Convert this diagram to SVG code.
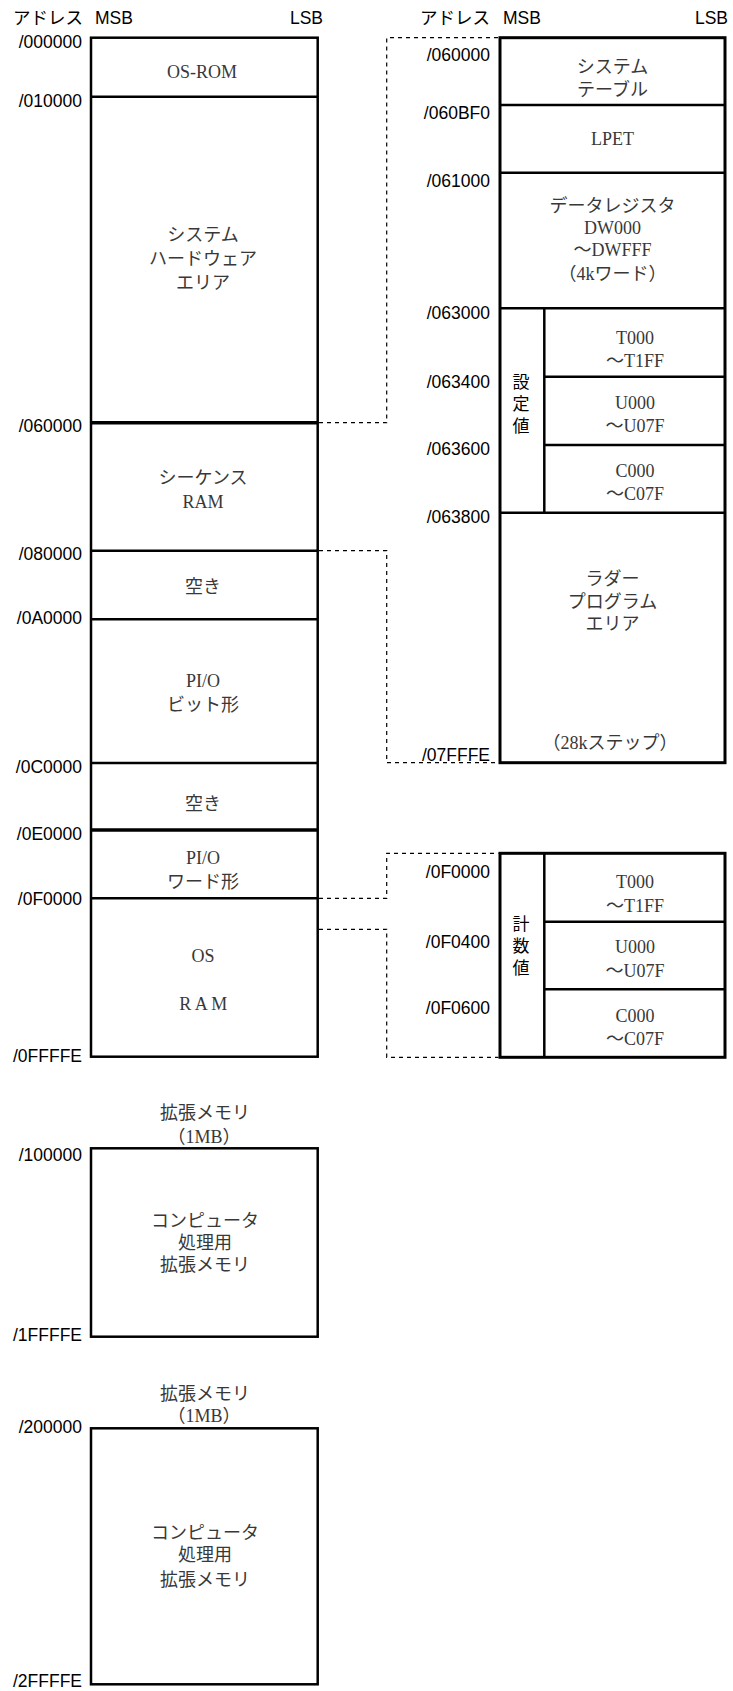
<svg xmlns="http://www.w3.org/2000/svg" width="733" height="1691" viewBox="0 0 733 1691">
<style>
.addr{font-family:"Liberation Sans","Noto Sans CJK JP",sans-serif;font-size:17.5px;fill:#000;text-anchor:end}
.hdr{font-family:"Liberation Sans","Noto Sans CJK JP",sans-serif;font-size:17.5px;fill:#000}
.lbl{font-family:"Liberation Serif","Noto Sans CJK JP",serif;font-size:18px;fill:#383838;text-anchor:middle}
.vt{font-family:"Liberation Sans","Noto Sans CJK JP",sans-serif;font-size:17px;fill:#000;text-anchor:middle}
.box{fill:none;stroke:#000;stroke-width:2.5}
.div{stroke:#000;stroke-width:2.5}
.thick{stroke:#000;stroke-width:3.5}
.dash{fill:none;stroke:#000;stroke-width:1.2;stroke-dasharray:4 4}
</style>
<rect width="733" height="1691" fill="#fff"/>

<g id="headers">
<text class="hdr" x="13" y="24">アドレス</text>
<text class="hdr" x="95" y="24">MSB</text>
<text class="hdr" x="323" y="24" text-anchor="end">LSB</text>
<text class="hdr" x="420" y="24">アドレス</text>
<text class="hdr" x="503" y="24">MSB</text>
<text class="hdr" x="728" y="24" text-anchor="end">LSB</text>
</g>

<g id="main-map">
<rect class="box" x="91" y="37.7" width="226.7" height="1019"/>
<line class="div" x1="91" y1="96.7" x2="317.7" y2="96.7"/>
<line class="thick" x1="91" y1="422.7" x2="317.7" y2="422.7"/>
<line class="div" x1="91" y1="550.7" x2="317.7" y2="550.7"/>
<line class="div" x1="91" y1="619.3" x2="317.7" y2="619.3"/>
<line class="div" x1="91" y1="763" x2="317.7" y2="763"/>
<line class="thick" x1="91" y1="830" x2="317.7" y2="830"/>
<line class="div" x1="91" y1="898.3" x2="317.7" y2="898.3"/>
<text class="addr" x="82" y="47.5">/000000</text>
<text class="addr" x="82" y="107">/010000</text>
<text class="addr" x="82" y="431.5">/060000</text>
<text class="addr" x="82" y="559.5">/080000</text>
<text class="addr" x="82" y="624">/0A0000</text>
<text class="addr" x="82" y="772.5">/0C0000</text>
<text class="addr" x="82" y="839.5">/0E0000</text>
<text class="addr" x="82" y="904.5">/0F0000</text>
<text class="addr" x="82" y="1061.5">/0FFFFE</text>
</g>
<g id="os-rom"><text class="lbl" x="202" y="78">OS-ROM</text></g>
<g id="sys-hw">
<text class="lbl" x="203" y="241">システム</text>
<text class="lbl" x="203" y="265">ハードウェア</text>
<text class="lbl" x="203" y="289">エリア</text>
</g>
<g id="seq-ram">
<text class="lbl" x="203" y="484">シーケンス</text>
<text class="lbl" x="203" y="508">RAM</text>
</g>
<g id="empty1"><text class="lbl" x="203" y="593">空き</text></g>
<g id="pio-bit">
<text class="lbl" x="203" y="687">PI/O</text>
<text class="lbl" x="203" y="711">ビット形</text>
</g>
<g id="empty2"><text class="lbl" x="203" y="810">空き</text></g>
<g id="pio-word">
<text class="lbl" x="203" y="864">PI/O</text>
<text class="lbl" x="203" y="888">ワード形</text>
</g>
<g id="os-ram">
<text class="lbl" x="203" y="961.5">OS</text>
<text class="lbl" x="205" y="1010" letter-spacing="3.5">RAM</text>
</g>

<g id="seq-detail">
<rect x="500" y="37.7" width="225" height="725" fill="none" stroke="#000" stroke-width="3"/>
<line class="div" x1="500" y1="105" x2="725" y2="105"/>
<line class="div" x1="500" y1="172.7" x2="725" y2="172.7"/>
<line class="div" x1="500" y1="308.3" x2="725" y2="308.3"/>
<line class="div" x1="544.3" y1="308.3" x2="544.3" y2="512.7"/>
<line class="div" x1="544.3" y1="376.7" x2="725" y2="376.7"/>
<line class="div" x1="544.3" y1="445" x2="725" y2="445"/>
<line class="div" x1="500" y1="512.7" x2="725" y2="512.7"/>
<text class="addr" x="490" y="60.5">/060000</text>
<text class="addr" x="490" y="118.5">/060BF0</text>
<text class="addr" x="490" y="187">/061000</text>
<text class="addr" x="490" y="318.5">/063000</text>
<text class="addr" x="490" y="387.5">/063400</text>
<text class="addr" x="490" y="454.5">/063600</text>
<text class="addr" x="490" y="523">/063800</text>
<text class="addr" x="490" y="760.5">/07FFFE</text>
</g>
<g id="sys-table">
<text class="lbl" x="612.5" y="72.5">システム</text>
<text class="lbl" x="612.5" y="96">テーブル</text>
</g>
<g id="lpet"><text class="lbl" x="612.5" y="145">LPET</text></g>
<g id="data-reg">
<text class="lbl" x="612.5" y="212">データレジスタ</text>
<text class="lbl" x="612.5" y="233.5">DW000</text>
<text class="lbl" x="612.5" y="255.5">～DWFFF</text>
<text class="lbl" x="612.5" y="280">（4kワード）</text>
</g>
<g id="set-values">
<text class="vt" x="521" y="388">設</text>
<text class="vt" x="521" y="410">定</text>
<text class="vt" x="521" y="432">値</text>
<text class="lbl" x="635" y="343.5">T000</text>
<text class="lbl" x="635" y="366.5">～T1FF</text>
<text class="lbl" x="635" y="408.5">U000</text>
<text class="lbl" x="635" y="431.5">～U07F</text>
<text class="lbl" x="635" y="476.5">C000</text>
<text class="lbl" x="635" y="499.5">～C07F</text>
</g>
<g id="ladder">
<text class="lbl" x="612.5" y="585">ラダー</text>
<text class="lbl" x="612.5" y="607.5">プログラム</text>
<text class="lbl" x="612.5" y="630">エリア</text>
<text class="lbl" x="610" y="749">（28kステップ）</text>
</g>

<g id="count-values">
<rect x="500" y="853.3" width="225" height="204" fill="none" stroke="#000" stroke-width="3"/>
<line class="div" x1="544.3" y1="853.3" x2="544.3" y2="1057.3"/>
<line class="div" x1="544.3" y1="921.7" x2="725" y2="921.7"/>
<line class="div" x1="544.3" y1="989.3" x2="725" y2="989.3"/>
<text class="addr" x="490" y="877.8">/0F0000</text>
<text class="addr" x="490" y="947.8">/0F0400</text>
<text class="addr" x="490" y="1014">/0F0600</text>
<text class="vt" x="521" y="929.5">計</text>
<text class="vt" x="521" y="951.5">数</text>
<text class="vt" x="521" y="973.5">値</text>
<text class="lbl" x="635" y="888">T000</text>
<text class="lbl" x="635" y="911.5">～T1FF</text>
<text class="lbl" x="635" y="953.3">U000</text>
<text class="lbl" x="635" y="976.7">～U07F</text>
<text class="lbl" x="635" y="1021.5">C000</text>
<text class="lbl" x="635" y="1044.5">～C07F</text>
</g>

<g id="ext-mem-1">
<text class="lbl" x="205" y="1119">拡張メモリ</text>
<text class="lbl" x="204" y="1143">（1MB）</text>
<rect class="box" x="91" y="1148.3" width="226.7" height="188.4"/>
<text class="addr" x="82" y="1161">/100000</text>
<text class="addr" x="82" y="1340.5">/1FFFFE</text>
<text class="lbl" x="205" y="1226.5">コンピュータ</text>
<text class="lbl" x="205" y="1248.5">処理用</text>
<text class="lbl" x="205" y="1271">拡張メモリ</text>
</g>

<g id="ext-mem-2">
<text class="lbl" x="205" y="1399.5">拡張メモリ</text>
<text class="lbl" x="204" y="1421.5">（1MB）</text>
<rect class="box" x="91" y="1428.3" width="226.7" height="256"/>
<text class="addr" x="82" y="1432.5">/200000</text>
<text class="addr" x="82" y="1686.5">/2FFFFE</text>
<text class="lbl" x="205" y="1538.5">コンピュータ</text>
<text class="lbl" x="205" y="1561">処理用</text>
<text class="lbl" x="205" y="1585.5">拡張メモリ</text>
</g>

<g id="connectors">
<path class="dash" d="M319 422.7 H386.7 V37.7 H498.5"/>
<path class="dash" d="M319 550.7 H386.7 V762.7 H498.5"/>
<path class="dash" d="M319 898.3 H386.7 V853.3 H498.5"/>
<path class="dash" d="M319 929.3 H386.7 V1057.3 H498.5"/>
</g>
</svg>
